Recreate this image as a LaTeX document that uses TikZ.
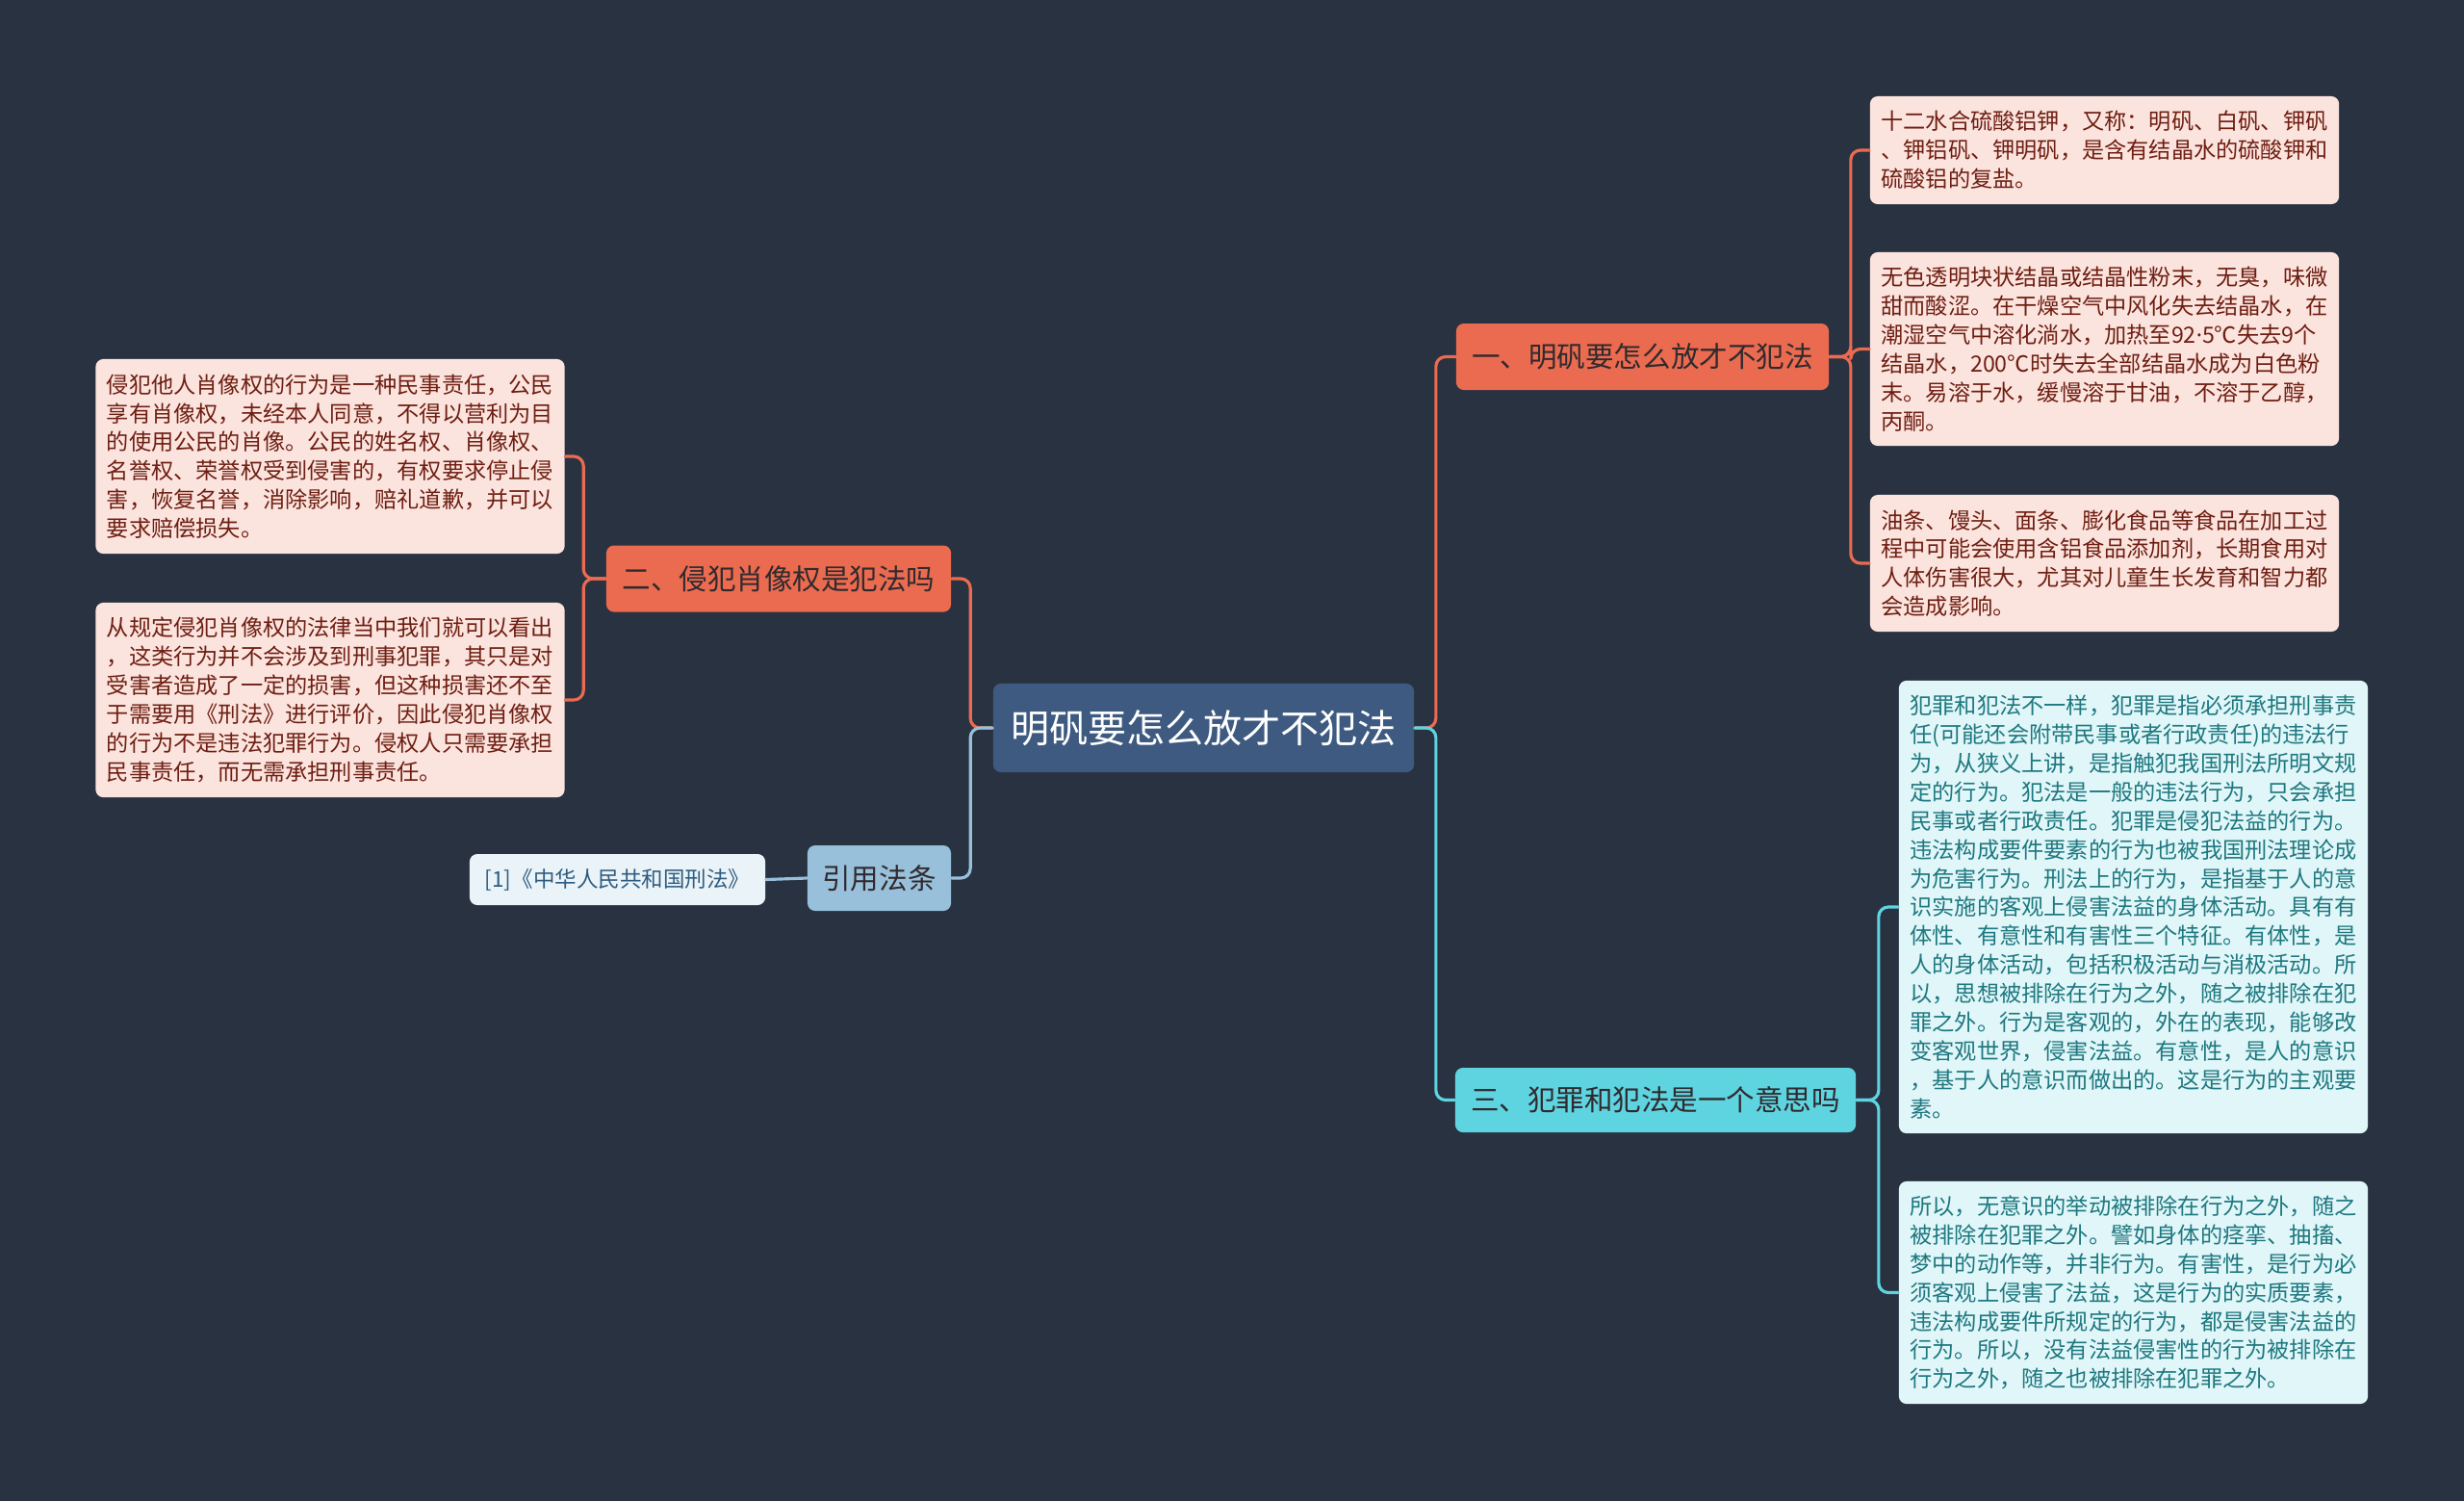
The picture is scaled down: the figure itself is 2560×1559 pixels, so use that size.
\documentclass[tikz,border=0pt]{standalone}
\usepackage{fontspec}
\newfontfamily\cjk{Noto Sans CJK SC}
\newfontfamily\latinsans{Noto Sans}
\usetikzlibrary{calc}
\definecolor{bgnavy}{RGB}{41,50,65}
\definecolor{rootblue}{RGB}{62,90,128}
\definecolor{coral}{RGB}{234,107,80}
\definecolor{skycyan}{RGB}{94,212,224}
\definecolor{citeblue}{RGB}{152,192,218}
\definecolor{pinkfill}{RGB}{252,228,222}
\definecolor{pinktext}{RGB}{110,30,18}
\definecolor{cyanfill}{RGB}{224,246,248}
\definecolor{cyantext}{RGB}{30,120,128}
\definecolor{notefill}{RGB}{234,243,248}
\definecolor{notetext}{RGB}{46,92,128}
\definecolor{darkink}{RGB}{48,42,46}

\begin{document}
\begin{tikzpicture}[x=0.01cm,y=-0.01cm,line cap=round,line join=round,
root/.style={rounded corners=0.8mm,fill=rootblue,text=white,font=\cjk\fontsize{11.4pt}{13pt}\selectfont,minimum width=4.37cm,minimum height=0.92cm,inner sep=0pt},
topic/.style={rounded corners=0.8mm,text=darkink,font=\cjk\fontsize{8.4pt}{10pt}\selectfont,minimum height=0.69cm,inner sep=0pt},
detail/.style={rounded corners=0.8mm,align=left,text width=4.64cm,inner xsep=0.115cm,inner ysep=0pt,font=\cjk\fontsize{6.6pt}{8.5pt}\selectfont},
pinkbox/.style={detail,fill=pinkfill,text=pinktext},
cyanbox/.style={detail,fill=cyanfill,text=cyantext},
link/.style={line width=0.9pt,rounded corners=1mm}]
\fill[bgnavy] (0,0) rectangle (2560,1559);
% centre and main topics
\node[root] (root) at (1250.5,756) {明矾要怎么放才不犯法};
\node[topic,fill=coral,minimum width=3.87cm] (t1) at (1706.5,370.5) {一、明矾要怎么放才不犯法};
\node[topic,fill=coral,minimum width=3.58cm] (t2) at (809,601) {二、侵犯肖像权是犯法吗};
\node[topic,fill=skycyan,minimum width=4.16cm,minimum height=0.67cm] (t3) at (1720,1142.5) {三、犯罪和犯法是一个意思吗};
\node[topic,fill=citeblue,minimum width=1.49cm,minimum height=0.68cm] (cite) at (913.5,912) {引用法条};
\node[rounded corners=0.8mm,fill=notefill,text=notetext,font=\cjk\fontsize{6.4pt}{8pt}\selectfont,minimum width=3.07cm,minimum height=0.53cm,inner sep=0pt] (ref) at (641.5,913.5) {[1]《中华人民共和国刑法》};
% details of topic one
\node[pinkbox,minimum height=1.12cm] (d1) at (2186.5,156) {十二水合硫酸铝钾，又称：明矾、白矾、钾矾\\、钾铝矾、钾明矾，是含有结晶水的硫酸钾和\\硫酸铝的复盐。};
\node[pinkbox,minimum height=2.01cm] (d2) at (2186.5,362.5) {无色透明块状结晶或结晶性粉末，无臭，味微\\甜而酸涩。在干燥空气中风化失去结晶水，在\\潮湿空气中溶化淌水，加热至92{\latinsans ·}5℃失去9个\\结晶水，200℃时失去全部结晶水成为白色粉\\末。易溶于水，缓慢溶于甘油，不溶于乙醇，\\丙酮。};
\node[pinkbox,minimum height=1.42cm] (d3) at (2186.5,585) {油条、馒头、面条、膨化食品等食品在加工过\\程中可能会使用含铝食品添加剂，长期食用对\\人体伤害很大，尤其对儿童生长发育和智力都\\会造成影响。};
% details of topic three
\node[cyanbox,minimum height=4.70cm] (g1) at (2216.5,942) {犯罪和犯法不一样，犯罪是指必须承担刑事责\\任(可能还会附带民事或者行政责任)的违法行\\为，从狭义上讲，是指触犯我国刑法所明文规\\定的行为。犯法是一般的违法行为，只会承担\\民事或者行政责任。犯罪是侵犯法益的行为。\\违法构成要件要素的行为也被我国刑法理论成\\为危害行为。刑法上的行为，是指基于人的意\\识实施的客观上侵害法益的身体活动。具有有\\体性、有意性和有害性三个特征。有体性，是\\人的身体活动，包括积极活动与消极活动。所\\以，思想被排除在行为之外，随之被排除在犯\\罪之外。行为是客观的，外在的表现，能够改\\变客观世界，侵害法益。有意性，是人的意识\\，基于人的意识而做出的。这是行为的主观要\\素。};
\node[cyanbox,minimum height=2.31cm] (g2) at (2216.5,1342.5) {所以，无意识的举动被排除在行为之外，随之\\被排除在犯罪之外。譬如身体的痉挛、抽搐、\\梦中的动作等，并非行为。有害性，是行为必\\须客观上侵害了法益，这是行为的实质要素，\\违法构成要件所规定的行为，都是侵害法益的\\行为。所以，没有法益侵害性的行为被排除在\\行为之外，随之也被排除在犯罪之外。};
% details of topic two
\node[pinkbox,minimum height=2.02cm] (l1) at (343,474) {侵犯他人肖像权的行为是一种民事责任，公民\\享有肖像权，未经本人同意，不得以营利为目\\的使用公民的肖像。公民的姓名权、肖像权、\\名誉权、荣誉权受到侵害的，有权要求停止侵\\害，恢复名誉，消除影响，赔礼道歉，并可以\\要求赔偿损失。};
\node[pinkbox,minimum height=2.02cm] (l2) at (343,727) {从规定侵犯肖像权的法律当中我们就可以看出\\，这类行为并不会涉及到刑事犯罪，其只是对\\受害者造成了一定的损害，但这种损害还不至\\于需要用《刑法》进行评价，因此侵犯肖像权\\的行为不是违法犯罪行为。侵权人只需要承担\\民事责任，而无需承担刑事责任。};
% connectors
\draw[link,coral] (root.east) -- ++(22,0) |- (t1.west);
\draw[link,skycyan] (root.east) -- ++(22,0) |- (t3.west);
\draw[link,coral] (root.west) -- ++(-23,0) |- (t2.east);
\draw[link,citeblue] (root.west) -- ++(-23,0) |- (cite.east);
\foreach \d in {d1,d2,d3}{\draw[link,coral] (t1.east) -- ++(22,0) |- (\d.west);}
\foreach \g in {g1,g2}{\draw[link,skycyan] (t3.east) -- ++(23,0) |- (\g.west);}
\foreach \l in {l1,l2}{\draw[link,coral] (t2.west) -- ++(-23,0) |- (\l.east);}
\draw[link,citeblue] (cite.west) -- (ref.east);
\end{tikzpicture}
\end{document}
